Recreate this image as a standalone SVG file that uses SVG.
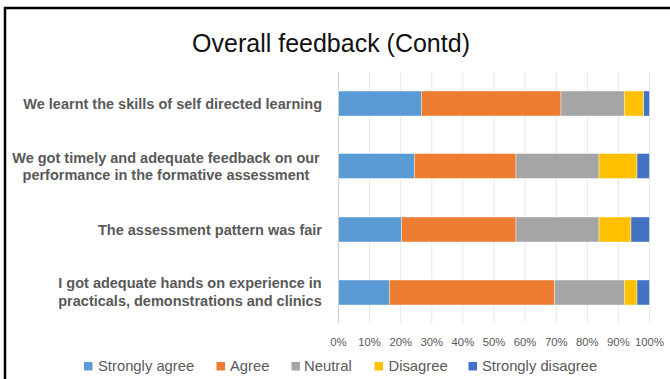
<svg xmlns="http://www.w3.org/2000/svg" width="670" height="379" viewBox="0 0 670 379">
<style>
.frame{stroke:#000;stroke-width:2.5;fill:none}
.title{font-family:"Liberation Sans",Arial,sans-serif;font-size:25px;fill:#111;text-anchor:middle}
.grid{stroke:#E8E8E8;stroke-width:1}
.axis{stroke:#D0D0D0;stroke-width:1.2}
.cat{font-family:"Liberation Sans",Arial,sans-serif;font-size:14.5px;font-weight:bold;fill:#595959}
.tick{font-family:"Liberation Sans",Arial,sans-serif;font-size:11.3px;fill:#595959;text-anchor:middle}
.leg{font-family:"Liberation Sans",Arial,sans-serif;font-size:14.8px;fill:#595959}
.sa{fill:#5B9BD5}.ag{fill:#ED7D31}.ne{fill:#A5A5A5}.di{fill:#FFC000}.sd{fill:#4472C4}
.seg{stroke:#fff;stroke-width:0.4}
</style>
<rect width="670" height="379" fill="#fff"/>
<g id="frame">
<line class="frame" x1="5" y1="7" x2="5" y2="379"/>
<line class="frame" x1="4" y1="8" x2="670" y2="8"/>
</g>
<text class="title" x="331" y="52">Overall feedback (Contd)</text>
<g id="gridlines">
<line class="grid" x1="369.6" y1="72" x2="369.6" y2="323"/>
<line class="grid" x1="400.7" y1="72" x2="400.7" y2="323"/>
<line class="grid" x1="431.8" y1="72" x2="431.8" y2="323"/>
<line class="grid" x1="462.9" y1="72" x2="462.9" y2="323"/>
<line class="grid" x1="494" y1="72" x2="494" y2="323"/>
<line class="grid" x1="525.1" y1="72" x2="525.1" y2="323"/>
<line class="grid" x1="556.2" y1="72" x2="556.2" y2="323"/>
<line class="grid" x1="587.3" y1="72" x2="587.3" y2="323"/>
<line class="grid" x1="618.4" y1="72" x2="618.4" y2="323"/>
<line class="grid" x1="649.5" y1="72" x2="649.5" y2="323"/>
<line class="axis" x1="338.5" y1="72" x2="338.5" y2="323"/>
</g>
<g id="bar1" class="seg">
<rect class="sa" x="338.5" y="91" width="82.8" height="25"/>
<rect class="ag" x="421.3" y="91" width="139.7" height="25"/>
<rect class="ne" x="561" y="91" width="63.3" height="25"/>
<rect class="di" x="624.3" y="91" width="19.4" height="25"/>
<rect class="sd" x="643.7" y="91" width="5.8" height="25"/>
</g>
<g id="bar2" class="seg">
<rect class="sa" x="338.5" y="153.5" width="75.8" height="25"/>
<rect class="ag" x="414.3" y="153.5" width="101.7" height="25"/>
<rect class="ne" x="516" y="153.5" width="83" height="25"/>
<rect class="di" x="599" y="153.5" width="38" height="25"/>
<rect class="sd" x="637" y="153.5" width="12.5" height="25"/>
</g>
<g id="bar3" class="seg">
<rect class="sa" x="338.5" y="217" width="63.2" height="25"/>
<rect class="ag" x="401.7" y="217" width="114.3" height="25"/>
<rect class="ne" x="516" y="217" width="83" height="25"/>
<rect class="di" x="599" y="217" width="32" height="25"/>
<rect class="sd" x="631" y="217" width="18.5" height="25"/>
</g>
<g id="bar4" class="seg">
<rect class="sa" x="338.5" y="280" width="50.8" height="25"/>
<rect class="ag" x="389.3" y="280" width="165" height="25"/>
<rect class="ne" x="554.3" y="280" width="70" height="25"/>
<rect class="di" x="624.3" y="280" width="12.7" height="25"/>
<rect class="sd" x="637" y="280" width="12.5" height="25"/>
</g>
<g id="labels">
<text class="cat" x="322" y="109" text-anchor="end">We learnt the skills of self directed learning</text>
<text class="cat" x="166" y="162.5" text-anchor="middle">We got timely and adequate feedback on our</text>
<text class="cat" x="166" y="180" text-anchor="middle">performance in the formative assessment</text>
<text class="cat" x="322" y="234.5" text-anchor="end">The assessment pattern was fair</text>
<text class="cat" x="190" y="288" text-anchor="middle">I got adequate hands on experience in</text>
<text class="cat" x="190" y="305.5" text-anchor="middle">practicals, demonstrations and clinics</text>
</g>
<g id="ticks">
<text class="tick" x="338.5" y="346">0%</text>
<text class="tick" x="369.6" y="346">10%</text>
<text class="tick" x="400.7" y="346">20%</text>
<text class="tick" x="431.8" y="346">30%</text>
<text class="tick" x="462.9" y="346">40%</text>
<text class="tick" x="494" y="346">50%</text>
<text class="tick" x="525.1" y="346">60%</text>
<text class="tick" x="556.2" y="346">70%</text>
<text class="tick" x="587.3" y="346">80%</text>
<text class="tick" x="618.4" y="346">90%</text>
<text class="tick" x="649.5" y="346">100%</text>
</g>
<g id="legend">
<rect class="sa" x="84" y="362" width="8.5" height="8.5"/>
<text class="leg" x="98" y="371">Strongly agree</text>
<rect class="ag" x="216.5" y="362" width="8.5" height="8.5"/>
<text class="leg" x="230" y="371">Agree</text>
<rect class="ne" x="291.5" y="362" width="8.5" height="8.5"/>
<text class="leg" x="304" y="371">Neutral</text>
<rect class="di" x="374.5" y="362" width="8.5" height="8.5"/>
<text class="leg" x="388.5" y="371">Disagree</text>
<rect class="sd" x="468.5" y="362" width="8.5" height="8.5"/>
<text class="leg" x="482" y="371">Strongly disagree</text>
</g>
</svg>
